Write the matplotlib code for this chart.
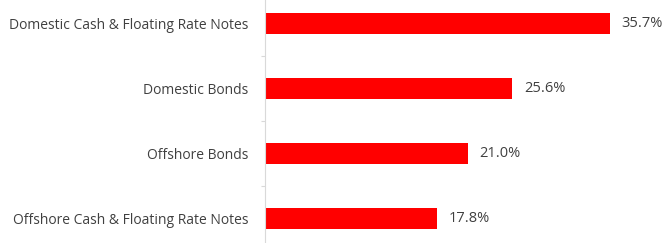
import matplotlib
matplotlib.use("Agg")
import matplotlib.pyplot as plt

categories = ["Domestic Cash & Floating Rate Notes", "Domestic Bonds",
              "Offshore Bonds", "Offshore Cash & Floating Rate Notes"]
values = [35.7, 25.6, 21.0, 17.8]

W, H = 662, 243
fig = plt.figure(figsize=(W / 100, H / 100), dpi=100)
left_px = 264.5
ax = fig.add_axes([left_px / W, 0, 1 - left_px / W, 1])

pos = list(range(len(categories)))
ax.barh(pos, values, height=0.323, color="#ff0000")
ax.set_ylim(3.377, -0.3615)
ax.set_xlim(0, 41.1)

ax.set_yticks(pos)
ax.set_yticklabels(categories, fontsize=10.0, color="#404040", family="Open Sans")
ax.tick_params(axis="y", which="major", length=0, pad=11.5)
ax.set_yticks([0.5, 1.5, 2.5], minor=True)
ax.tick_params(axis="y", which="minor", length=3, color="#d9d9d9", width=0.8)
ax.set_xticks([])

for s in ["top", "right", "bottom"]:
    ax.spines[s].set_visible(False)
ax.spines["left"].set_color("#d9d9d9")
ax.spines["left"].set_linewidth(0.8)

for p, v in zip(pos, values):
    ax.annotate(f"{v:.1f}%", (v, p), xytext=(8.5, 0), textcoords="offset points",
                va="center", ha="left", fontsize=10.5, color="#404040",
                family="Open Sans", annotation_clip=False)

fig.savefig("out.png", dpi=100)
